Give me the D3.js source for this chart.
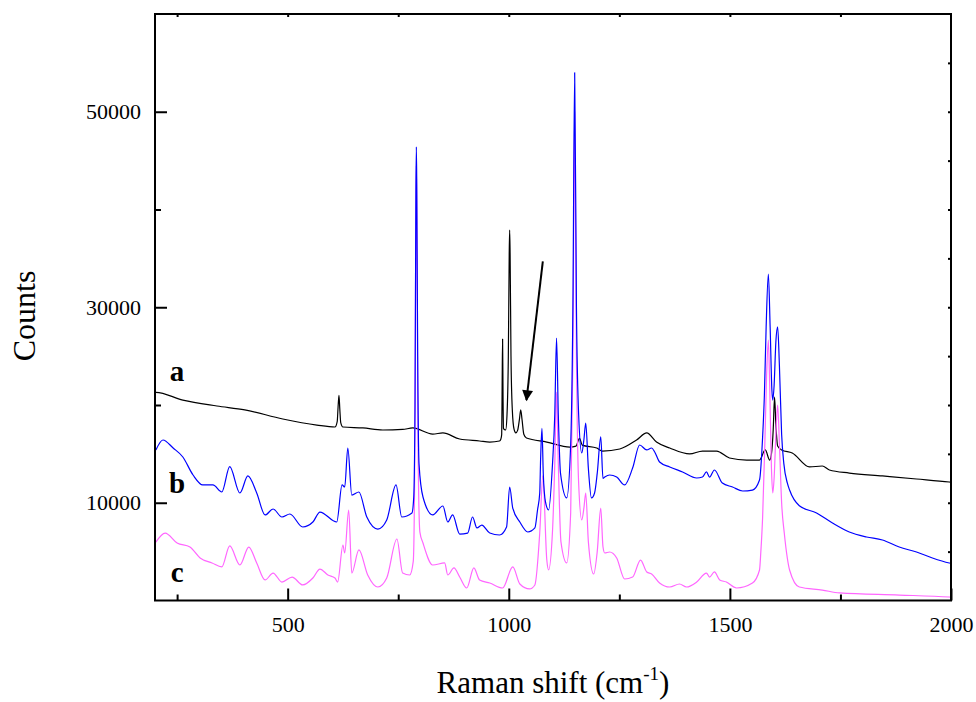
<!DOCTYPE html>
<html><head><meta charset="utf-8">
<script src="https://cdn.jsdelivr.net/npm/d3@7"></script>
<style>body{margin:0;background:#fff}svg{display:block}</style>
</head><body>
<svg id="chart" width="976" height="702"></svg>
<script>
// ---- data (Raman shift cm^-1, counts) ----
const seriesNames = ["a", "b", "c"];
const seriesColors = ["#000000", "#0000ff", "#ff66ff"];
const xTicksMajor = [500, 1000, 1500, 2000];
const xTicksMinor = [250, 750, 1250, 1750];
const yTicksMajor = [10000, 30000, 50000];
const yTicksMinor = [20000, 40000];

const spectrumA = [
 [200,21300],[202,21300],[263,20500],[340,19900],[403,19500],[489,18570],[566,17950],[607,17750],
 [612,18300],[614,19800],[616,21000],[618,19500],[620,18200],[625,17750],[670,17650],[715,17440],
 [760,17500],[783,17650],[828,17030],[851,17140],[889,16520],[934,16320],[957,16210],[979,16320],
 [982,16500],[984,17000],[985,22000],[986,26750],[987,21000],[988,17600],[990,17500],[993,17450],
 [996,19000],[999,25000],[1001,35500],[1002,37900],[1003,35500],[1005,25000],[1008,19500],[1012,17500],
 [1016,17150],[1020,17400],[1024,18500],[1027,19500],[1030,18500],[1034,17000],[1040,16620],[1086,16210],
 [1138,15700],[1152,15800],[1160,16600],[1166,15900],[1199,15600],[1212,15290],[1251,15500],[1289,16420],
 [1312,17140],[1334,16210],[1364,15600],[1409,14990],[1438,15290],[1470,15290],[1499,14580],[1538,14370],
 [1567,14370],[1580,15400],[1590,14370],[1594,15000],[1598,17500],[1601,20800],[1604,18000],[1608,15800],
 [1617,15400],[1641,15090],[1680,13660],[1709,13760],[1725,13350],[1770,13040],[1845,12740],[1922,12430],
 [1996,12120],[2000,12100]
];

const spectrumB = [
 [202,15400],[218,16420],[241,15600],[263,14680],[286,12840],[308,11820],[331,11820],[351,11100],
 [369,13700],[392,11000],[410,12740],[430,11000],[449,8750],[467,9360],[487,8540],[505,8850],
 [534,7520],[557,8030],[573,9050],[611,8030],[623,11820],[629,11610],[636,15600],[645,10790],
 [661,11100],[679,8540],[704,7310],[724,8240],[745,11820],[758,8540],[781,8950],[785,10500],
 [788,20000],[790,42000],[791,46400],[792,42000],[794,25000],[797,14000],[806,10590],[828,8750],
 [851,9670],[862,8030],[873,8750],[889,6800],[907,6900],[918,8540],[928,7420],[939,7720],
 [957,6900],[979,6700],[995,7520],[1002,11610],[1009,9460],[1025,8030],[1043,7010],[1059,7420],
 [1065,9260],[1070,11000],[1072,14500],[1075,17600],[1078,13000],[1083,10080],[1090,9260],[1099,14070],
 [1104,19000],[1108,26850],[1112,19000],[1117,13000],[1131,10490],[1140,16000],[1145,30000],[1149,54000],
 [1153,30000],[1158,19000],[1165,15090],[1170,16500],[1174,18160],[1180,13500],[1187,10490],[1194,11000],
 [1200,13000],[1208,16730],[1213,12500],[1217,12630],[1228,12840],[1244,12630],[1262,11820],[1280,13550],
 [1296,15910],[1312,15400],[1323,15600],[1330,15190],[1341,14170],[1364,13660],[1393,13150],[1425,12530],
 [1438,12630],[1447,13150],[1454,12630],[1465,13350],[1483,12020],[1506,11610],[1529,11200],[1551,11300],
 [1567,12330],[1574,16730],[1578,21000],[1582,28000],[1587,33400],[1591,28000],[1595,21500],[1597,20500],
 [1600,22000],[1604,26500],[1608,28000],[1612,24000],[1617,17000],[1622,14000],[1630,12000],[1635,11300],
 [1657,9700],[1696,8950],[1732,7930],[1770,7010],[1809,6500],[1845,6190],[1883,5470],[1922,4960],
 [1958,4350],[1996,3840],[2000,3800]
];

const spectrumC = [
 [202,5980],[223,6900],[250,5880],[279,5470],[302,4350],[329,3840],[351,3430],[369,5580],
 [392,3630],[412,5470],[430,3840],[449,2100],[467,2810],[487,1890],[510,2400],[534,1590],
 [557,2300],[573,3220],[591,2610],[607,2300],[613,1890],[625,5680],[629,4860],[638,9260],
 [645,2810],[661,5170],[681,2610],[704,1380],[724,2300],[747,6290],[760,2810],[776,2610],
 [784,4000],[787,12000],[790,40000],[791,44500],[792,40000],[795,15000],[799,7000],[806,5880],
 [828,3630],[855,3840],[862,2610],[876,3330],[889,2400],[905,1280],[921,3330],[934,2100],
 [957,1790],[986,1280],[1009,3430],[1025,1690],[1047,1180],[1059,1590],[1070,6900],[1077,12740],
 [1086,4140],[1090,3120],[1099,7210],[1104,14000],[1108,21330],[1112,14000],[1118,6000],[1131,3840],
 [1140,9000],[1145,25000],[1149,50000],[1153,25000],[1158,12000],[1165,8240],[1170,9500],[1174,11000],
 [1180,6000],[1192,2710],[1200,5000],[1208,9460],[1213,5500],[1217,4860],[1228,4960],[1244,4350],
 [1262,2200],[1280,2400],[1298,4140],[1312,2920],[1323,2710],[1341,1790],[1364,1380],[1386,1690],
 [1402,1380],[1425,1890],[1447,2810],[1454,2400],[1465,2920],[1477,2100],[1492,1890],[1515,1280],
 [1551,1790],[1567,3120],[1570,5000],[1574,8500],[1579,16000],[1583,23000],[1587,26650],[1590,22000],
 [1594,13500],[1597,11000],[1600,12500],[1604,17000],[1608,20000],[1612,16000],[1617,10000],[1623,6900],
 [1630,4300],[1635,3120],[1657,1380],[1709,1070],[1748,770],[1883,560],[1996,360],[2000,350]
];

const labelPositions = [[250, 22500], [250, 11000], [250, 1900]]; // [shift, counts] anchors for a/b/c labels
const arrowFrom = [1077, 34700];
const arrowTo = [1040, 20500];

// ---- drawing ----
const svg = d3.select("#chart");
const x = d3.scaleLinear().domain([200, 2000]).range([155, 951]);
const y = d3.scaleLinear().domain([0, 60000]).range([600.5, 14]);
const font = "'Liberation Serif', 'Times New Roman', serif";

const line = d3.line().x(d => x(d[0])).y(d => y(d[1])).curve(d3.curveMonotoneX);
const spectra = [spectrumA, spectrumB, spectrumC];
const drawOrder = [0, 2, 1];
svg.append("g").selectAll("path").data(drawOrder).join("path")
  .attr("d", i => line(spectra[i])).attr("fill", "none")
  .attr("stroke", i => seriesColors[i]).attr("stroke-width", 1.2)
  .attr("stroke-linejoin", "round");

// frame
svg.append("rect").attr("x", x(200)).attr("y", y(60000))
  .attr("width", x(2000) - x(200)).attr("height", y(0) - y(60000))
  .attr("fill", "none").attr("stroke", "#000").attr("stroke-width", 2);

function styleAxis(g) {
  g.select(".domain").remove();
  g.selectAll("line").attr("stroke", "#000").attr("stroke-width", 2);
  g.selectAll("text").attr("font-family", font).attr("font-size", 22).attr("fill", "#000");
}
// bottom
svg.append("g").attr("transform", `translate(0,${y(0)})`)
  .call(d3.axisBottom(x).tickValues(xTicksMajor).tickSize(-12).tickPadding(16).tickFormat(d3.format("d")))
  .call(styleAxis);
svg.append("g").attr("transform", `translate(0,${y(0)})`)
  .call(d3.axisBottom(x).tickValues(xTicksMinor).tickSize(-6).tickFormat(""))
  .call(styleAxis);
// left
svg.append("g").attr("transform", `translate(${x(200)},0)`)
  .call(d3.axisLeft(y).tickValues(yTicksMajor).tickSize(-12).tickPadding(14).tickFormat(d3.format("d")))
  .call(styleAxis);
svg.append("g").attr("transform", `translate(${x(200)},0)`)
  .call(d3.axisLeft(y).tickValues(yTicksMinor).tickSize(-6).tickFormat(""))
  .call(styleAxis);
// top & right small ticks
svg.append("g").attr("transform", `translate(0,${y(60000)})`)
  .call(d3.axisTop(x).tickValues(d3.range(250, 2000, 250)).tickSize(-3).tickFormat(""))
  .call(styleAxis);
svg.append("g").attr("transform", `translate(${x(2000)},0)`)
  .call(d3.axisRight(y).tickValues(d3.range(5000, 60000, 5000)).tickSize(-3).tickFormat(""))
  .call(styleAxis);

// axis titles
const xt = svg.append("text").attr("x", 553).attr("y", 693).attr("text-anchor", "middle")
  .attr("font-family", font).attr("font-size", 31);
xt.append("tspan").text("Raman shift (cm");
xt.append("tspan").attr("dy", -13).attr("font-size", 19).text("-1");
xt.append("tspan").attr("dy", 13).text(")");
svg.append("text").attr("transform", "translate(35,316) rotate(-90)").attr("text-anchor", "middle")
  .attr("font-family", font).attr("font-size", 32).text("Counts");

// series labels
svg.append("g").selectAll("text").data(seriesNames).join("text")
  .attr("x", (d, i) => x(labelPositions[i][0])).attr("y", (d, i) => y(labelPositions[i][1]))
  .attr("text-anchor", "middle").attr("font-family", font).attr("font-weight", "bold")
  .attr("font-size", 29).text(d => d);

// arrow
svg.append("defs").append("marker").attr("id", "ah").attr("viewBox", "0 0 10 10")
  .attr("refX", 9).attr("refY", 5).attr("markerWidth", 8).attr("markerHeight", 5.5)
  .attr("markerUnits", "strokeWidth").attr("orient", "auto")
  .append("path").attr("d", "M0,0 L10,5 L0,10 Z").attr("fill", "#000");
svg.append("line").attr("x1", x(arrowFrom[0])).attr("y1", y(arrowFrom[1]))
  .attr("x2", x(arrowTo[0])).attr("y2", y(arrowTo[1]))
  .attr("stroke", "#000").attr("stroke-width", 2).attr("marker-end", "url(#ah)");
</script>
</body></html>
